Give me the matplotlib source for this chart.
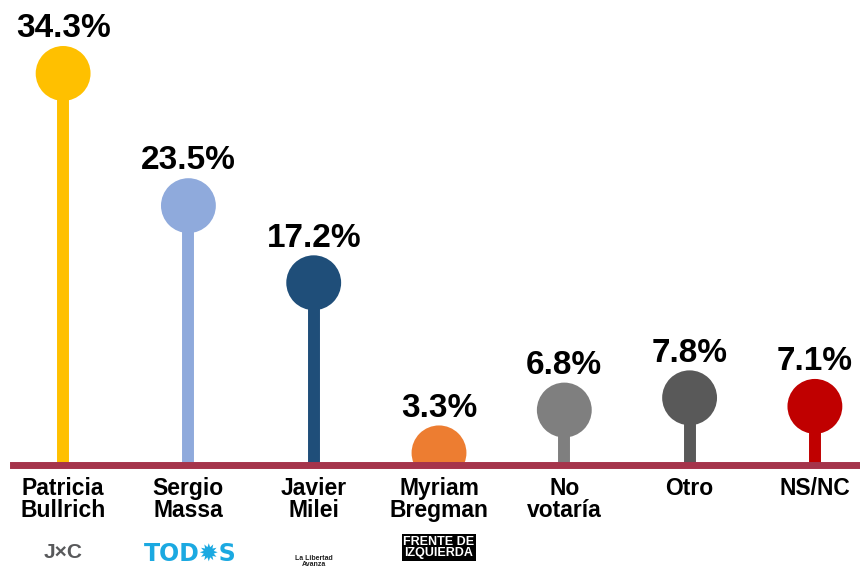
import matplotlib.pyplot as plt

# data
names = ["Patricia\nBullrich", "Sergio\nMassa", "Javier\nMilei", "Myriam\nBregman",
         "No\nvotaría", "Otro", "NS/NC"]
values = [34.3, 23.5, 17.2, 3.3, 6.8, 7.8, 7.1]
colors = ["#FFC000", "#8FAADC", "#1F4E79", "#ED7D31", "#7F7F7F", "#595959", "#C00000"]

plt.rcParams['font.family'] = ['Liberation Sans', 'DejaVu Sans']

fig = plt.figure(figsize=(8.6, 5.68), dpi=100)
ax = fig.add_axes([13 / 860, (568 - 464.5) / 568, 1 - 13 / 860, 464.5 / 568])

x = list(range(len(values)))
ymin = 2.35
ax.set_ylim(ymin, 40.3)
ax.set_xlim(-0.4, 6.36)

# stems and heads
ax.vlines(x, ymin, values, colors=colors, linewidth=8.6, zorder=1)
ax.scatter(x, values, s=1560, c=colors, zorder=2, linewidths=0)

# value labels
for xi, v in zip(x, values):
    ax.annotate(f"{v}%", (xi, v), xytext=(0, 21), textcoords="offset points",
                ha="center", va="bottom", fontsize=24, fontweight="bold")

# category labels
for xi, n in zip(x, names):
    ax.annotate(n, (xi, ymin), xytext=(0, -9), textcoords="offset points",
                ha="center", va="top", fontsize=16.5, fontweight="bold",
                linespacing=0.95, annotation_clip=False)

# party marks (text stand-ins for the logos)
ax.annotate("J×C", (0, ymin), xytext=(0, -63), textcoords="offset points",
            ha="center", va="center", fontsize=15, fontweight="bold",
            color="#58595B", annotation_clip=False)
ax.annotate("TOD✹S", (1, ymin), xytext=(1, -64), textcoords="offset points",
            ha="center", va="center", fontsize=17, fontweight="bold",
            color="#1BA9E1", family=['DejaVu Sans'], annotation_clip=False)
ax.annotate("La Libertad\nAvanza", (2, ymin), xytext=(0, -70), textcoords="offset points",
            ha="center", va="center", fontsize=5, fontweight="bold",
            color="#222222", linespacing=0.9, annotation_clip=False)
ax.annotate("FRENTE DE\nIZQUIERDA", (3, ymin), xytext=(0, -60), textcoords="offset points",
            ha="center", va="center", fontsize=9, fontweight="bold", color="white",
            linespacing=0.9, annotation_clip=False,
            bbox=dict(boxstyle="square,pad=0.15", fc="black", ec="none"))

for s in ["top", "right", "left"]:
    ax.spines[s].set_visible(False)
ax.spines["bottom"].set_color("#A5344B")
ax.spines["bottom"].set_linewidth(5)
ax.set_xticks([])
ax.set_yticks([])

fig.savefig("out.png", dpi=100)
